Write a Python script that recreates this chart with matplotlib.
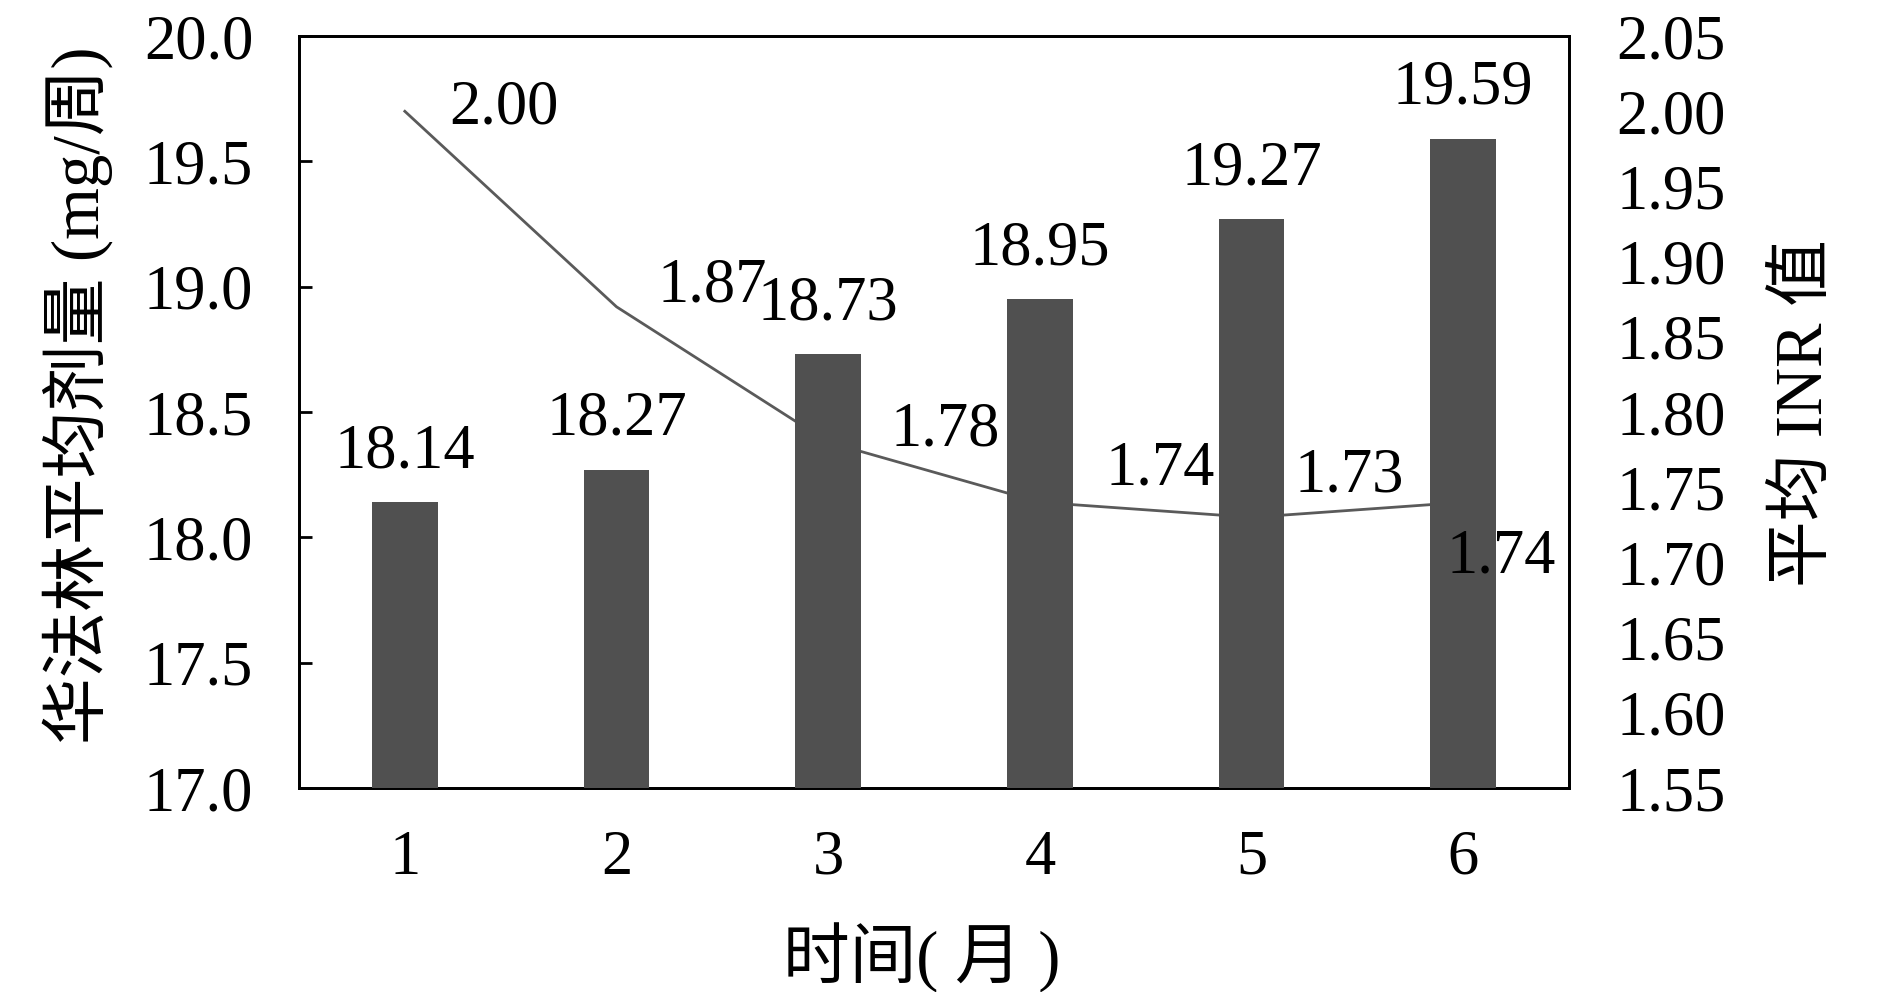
import matplotlib
matplotlib.use("Agg")
import matplotlib.pyplot as plt
import numpy as np

plt.rcParams['font.family'] = ['Liberation Serif', 'Noto Sans CJK SC', 'DejaVu Sans']

months = ['1', '2', '3', '4', '5', '6']
dose = [18.14, 18.27, 18.73, 18.95, 19.27, 19.59]
inr = [2.00, 1.87, 1.78, 1.74, 1.73, 1.74]
dose_ticks = [17.0, 17.5, 18.0, 18.5, 19.0, 19.5, 20.0]
inr_ticks = [1.55, 1.60, 1.65, 1.70, 1.75, 1.80, 1.85, 1.90, 1.95, 2.00, 2.05]

# label offsets for the INR values (pixels), placed by hand like the original
inr_offsets = [(99, 3), (96, 20), (117, 12), (120, 33), (98, 41), (38, -55)]

FS = 45

fig = plt.figure(figsize=(18.9, 9.92), dpi=100)
ax = fig.add_axes([0.1582, 0.2056, 0.672, 0.758])
ax2 = ax.twinx()
# bars drawn over the line
ax.set_zorder(ax2.get_zorder() + 1)
ax.patch.set_visible(False)

x = np.arange(1, len(months) + 1)
ax.bar(x, dose, width=0.31, color='#505050', zorder=3)
for xi, v in zip(x, dose):
    ax.annotate(f"{v:.2f}", (xi, v), xytext=(0, 50), textcoords='offset pixels',
                ha='center', va='center', fontsize=FS)

ax2.plot(x, inr, color='#5a5a5a', lw=2.0)
# INR labels go on the top axes so they sit over the bars
for xi, v, off in zip(x, inr, inr_offsets):
    ax.annotate(f"{v:.2f}", (xi, v), xycoords=ax2.transData, xytext=off,
                textcoords='offset pixels', ha='center', va='center',
                fontsize=FS, zorder=5)

ax.set_xlim(0.5, 6.5)
ax.set_ylim(17.0, 20.0)
ax.set_yticks(dose_ticks)
ax.set_yticklabels([f"{t:.1f}" for t in dose_ticks], fontsize=FS)
ax.set_xticks(x)
ax.set_xticklabels(months, fontsize=FS)
ax.tick_params(axis='y', direction='in', length=9, width=2, pad=33)
ax.tick_params(axis='x', length=0, pad=30)

ax2.set_ylim(1.55, 2.05)
ax2.set_yticks(inr_ticks)
ax2.set_yticklabels([f"{t:.2f}" for t in inr_ticks], fontsize=FS)
ax2.tick_params(axis='y', length=0, pad=34)

for a in (ax, ax2):
    for s in a.spines.values():
        s.set_linewidth(2)
        s.set_color('black')

fig.text(78 / 1890, 1 - 395 / 992, "华法林平均剂量 (mg/周)", rotation=90,
         ha='center', va='center', fontsize=48)
fig.text(1805 / 1890, 1 - 413 / 992, "平均 INR 值", rotation=90,
         ha='center', va='center', fontsize=48)
fig.text(922 / 1890, 1 - 958 / 992, "时间( 月 )", ha='center', va='center', fontsize=48)

fig.savefig("out.png", dpi=100)
